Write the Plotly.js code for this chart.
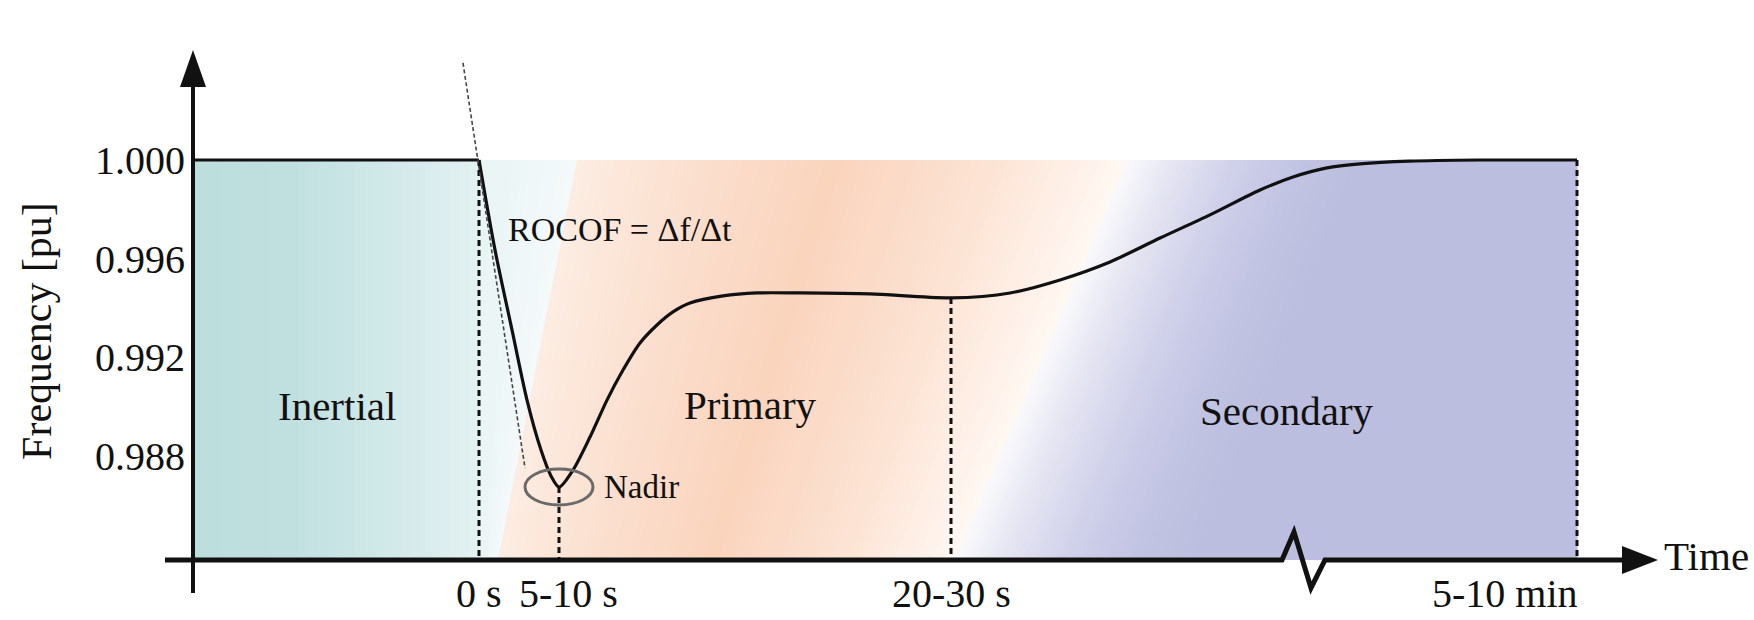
<!DOCTYPE html>
<html>
<head>
<meta charset="utf-8">
<script src="https://cdn.plot.ly/plotly-3.0.1.min.js"></script>
<style>
  html, body { margin: 0; padding: 0; background: #ffffff; }
  #chart { width: 1754px; height: 620px; }
</style>
</head>
<body>
<div id="chart"></div>
<script>
// Frequency response after a sudden loss of generation.
// Time is on a schematic (non-linear) axis; frequency in per unit.

// ---- data -------------------------------------------------------------
const timePos = [-28.6, 0, 1.6, 3.3, 4.8, 6.2, 7.2, 8.0, 9.4, 11.1, 12.8, 14.4, 16.1,
                 17.8, 19.4, 21.1, 24.4, 27.8, 32.1, 39.1, 47.2, 53.1, 58.1, 63.1, 68.1,
                 73.1, 78.1, 81.4, 84.8, 88.1, 93.0, 100.0, 109.8];
const freqPu  = [1.0, 1.0, 0.99635, 0.99310, 0.99025, 0.98822, 0.98717, 0.98672, 0.98741,
                 0.98875, 0.99025, 0.99147, 0.99257, 0.99330, 0.99383, 0.99419, 0.99448,
                 0.99460, 0.99460, 0.99456, 0.99440, 0.99460, 0.99513, 0.99586, 0.99683,
                 0.99777, 0.99878, 0.99931, 0.99968, 0.99984, 0.99995, 1.0, 1.0];

const yTickVals = [0.988, 0.992, 0.996, 1.000];
const yTickText = ['0.988', '0.992', '0.996', '1.000'];

const timeMarks    = [0, 8.0, 47.2, 109.8];
const timeMarkText = ['0 s', '5-10 s', '20-30 s', '5-10 min'];

const phaseNames = ['Inertial', 'Primary', 'Secondary'];

// ---- geometry & style -------------------------------------------------
const W = 1754, H = 620;
const X_RANGE = [-47.9, 127.5];
const Y_RANGE = [0.98132, 1.006497];
const uX = (X_RANGE[1] - X_RANGE[0]) / W;   // data units per pixel
const uY = (Y_RANGE[1] - Y_RANGE[0]) / H;

const AXIS_Y = 0.98376;      // level of the time axis
const Y_AXIS_X = -28.6;      // position of the frequency axis
const F_NOM = 1.0;
const INK = '#111111';
const FONT = 'Liberation Serif';

const phaseLabelPos = [[-14.2, 0.99001], [27.1, 0.99005], [80.8, 0.98981]];

// coloured phase bands (slanted edges given as [x at top, x at bottom])
const bands = [
  { left: [Y_AXIS_X, Y_AXIS_X], right: [0, 0], n: 30,
    stops: [[0, '#bcdedd'], [0.35, '#c0e0df'], [0.7, '#d3e9ea'], [1, '#e3f1f2']] },
  { left: [0, 0], right: [9.8, 1.9], n: 12,
    stops: [[0, '#e9f4f5'], [1, '#f4f9fa']] },
  { left: [9.8, 1.9], right: [64.9, 47.6], n: 60,
    stops: [[0, '#fcece2'], [0.2, '#fbe0d0'], [0.47, '#fad4bd'], [0.75, '#fce3d4'], [1, '#fff8f3']] },
  { left: [64.9, 47.6], right: [87.9, 71.6], n: 60,
    stops: [[0, '#f9f9fc'], [0.18, '#e7e7f3'], [0.36, '#d8d9ed'], [0.55, '#cbcce7'],
            [0.75, '#c2c4e3'], [0.9, '#bec0e0'], [1, '#bcbedf']] },
  { left: [87.9, 71.6], right: [109.8, 109.8], n: 1,
    stops: [[0, '#bcbedf'], [1, '#bcbedf']] }
];

function hexRgb(h) {
  return [1, 3, 5].map(i => parseInt(h.slice(i, i + 2), 16));
}
function colorAt(stops, t) {
  for (let i = 1; i < stops.length; i++) {
    if (t <= stops[i][0] || i === stops.length - 1) {
      const [t0, c0] = stops[i - 1], [t1, c1] = stops[i];
      const f = t1 === t0 ? 0 : Math.min(1, Math.max(0, (t - t0) / (t1 - t0)));
      const a = hexRgb(c0), b = hexRgb(c1);
      const c = a.map((v, k) => Math.round(v + (b[k] - v) * f));
      return 'rgb(' + c.join(',') + ')';
    }
  }
}
function pathOf(pts, close) {
  return 'M' + pts.map(p => p[0] + ',' + p[1]).join('L') + (close ? 'Z' : '');
}

const shapes = [];

// background phase bands, built from thin strips so the colour can follow the slanted edges
bands.forEach(b => {
  for (let i = 0; i < b.n; i++) {
    const t0 = i / b.n, t1 = (i + 1) / b.n;
    const over = i < b.n - 1 ? 0.15 : 0.05;
    const xt0 = b.left[0] + t0 * (b.right[0] - b.left[0]);
    const xt1 = b.left[0] + t1 * (b.right[0] - b.left[0]) + over;
    const xb0 = b.left[1] + t0 * (b.right[1] - b.left[1]);
    const xb1 = b.left[1] + t1 * (b.right[1] - b.left[1]) + over;
    shapes.push({
      type: 'path', xref: 'x', yref: 'y', layer: 'below',
      path: pathOf([[xt0, F_NOM], [xt1, F_NOM], [xb1, AXIS_Y], [xb0, AXIS_Y]], true),
      fillcolor: colorAt(b.stops, (t0 + t1) / 2),
      line: { width: 0 }
    });
  }
});

// dashed drop lines from the curve to the time axis at the marked instants
timeMarks.forEach(t => {
  const f = freqPu[timePos.indexOf(t)];
  shapes.push({
    type: 'line', xref: 'x', yref: 'y', layer: 'below',
    x0: t, x1: t, y0: f, y1: AXIS_Y,
    line: { color: INK, width: 3, dash: '6px,4px' }
  });
});

// ROCOF tangent at the onset of the disturbance
shapes.push({
  type: 'line', xref: 'x', yref: 'y', layer: 'above',
  x0: -1.6, y0: 1.003939, x1: 4.6, y1: 0.987491,
  line: { color: '#444444', width: 1.6, dash: '4px,2.5px' }
});

// nadir marker
const iNadir = freqPu.indexOf(Math.min(...freqPu));
shapes.push({
  type: 'circle', xref: 'x', yref: 'y', layer: 'above',
  x0: timePos[iNadir] - 34 * uX, x1: timePos[iNadir] + 34 * uX,
  y0: freqPu[iNadir] - 18 * uY, y1: freqPu[iNadir] + 18 * uY,
  line: { color: '#6a6a6a', width: 3 }
});

// frequency axis with arrow head
shapes.push({
  type: 'line', xref: 'x', yref: 'y', layer: 'above',
  x0: Y_AXIS_X, x1: Y_AXIS_X, y0: AXIS_Y - 33 * uY, y1: F_NOM + 75 * uY,
  line: { color: INK, width: 4 }
});
shapes.push({
  type: 'path', xref: 'x', yref: 'y', layer: 'above',
  path: pathOf([[Y_AXIS_X, F_NOM + 110 * uY], [Y_AXIS_X - 13 * uX, F_NOM + 73 * uY],
                [Y_AXIS_X + 13 * uX, F_NOM + 73 * uY]], true),
  fillcolor: INK, line: { width: 0 }
});

// time axis with a break symbol and arrow head
const brk = 80.3;
shapes.push({
  type: 'path', xref: 'x', yref: 'y', layer: 'above',
  path: pathOf([[Y_AXIS_X - 28 * uX, AXIS_Y], [brk, AXIS_Y], [brk + 12 * uX, AXIS_Y + 28 * uY],
                [brk + 29 * uX, AXIS_Y - 28 * uY], [brk + 43 * uX, AXIS_Y], [114.6, AXIS_Y]], false),
  line: { color: INK, width: 5 }
});
shapes.push({
  type: 'path', xref: 'x', yref: 'y', layer: 'above',
  path: pathOf([[117.9, AXIS_Y], [114.3, AXIS_Y + 14 * uY], [114.3, AXIS_Y - 14 * uY]], true),
  fillcolor: INK, line: { width: 0 }
});

// ---- traces ------------------------------------------------------------
const iOnset = timePos.indexOf(0);
const traces = [
  { // pre-disturbance steady state
    x: timePos.slice(0, iOnset + 1), y: freqPu.slice(0, iOnset + 1),
    type: 'scatter', mode: 'lines', hoverinfo: 'skip',
    line: { color: INK, width: 3.2 }
  },
  { // dynamic response
    x: timePos.slice(iOnset), y: freqPu.slice(iOnset),
    type: 'scatter', mode: 'lines', hoverinfo: 'skip',
    line: { color: INK, width: 3.2, shape: 'spline', smoothing: 0.8 }
  }
];

// ---- annotations -------------------------------------------------------
const annotations = [];
phaseNames.forEach((name, i) => {
  annotations.push({
    x: phaseLabelPos[i][0], y: phaseLabelPos[i][1], xref: 'x', yref: 'y',
    text: name, showarrow: false, xanchor: 'center', yanchor: 'middle',
    font: { family: FONT, size: 41, color: INK }
  });
});
const markAnchor = ['center', 'center', 'center', 'right'];
const markShift  = [0, 9, 0, 3];
timeMarks.forEach((t, i) => {
  annotations.push({
    x: t, y: 0.98238, xref: 'x', yref: 'y', text: timeMarkText[i], showarrow: false,
    xanchor: markAnchor[i], yanchor: 'middle', xshift: markShift[i],
    font: { family: FONT, size: 40, color: INK }
  });
});
annotations.push({
  x: 118.3, y: 0.98392, xref: 'x', yref: 'y', text: 'Time', showarrow: false,
  xanchor: 'left', yanchor: 'middle', font: { family: FONT, size: 41, color: INK }
});
annotations.push({
  x: 2.7, y: 0.99716, xref: 'x', yref: 'y', text: 'ROCOF = \u0394f/\u0394t', showarrow: false,
  xanchor: 'left', yanchor: 'middle', font: { family: FONT, size: 34, color: INK }
});
annotations.push({
  x: timePos[iNadir] + 43 * uX, y: freqPu[iNadir], xref: 'x', yref: 'y', text: 'Nadir',
  showarrow: false, xanchor: 'left', yanchor: 'middle',
  font: { family: FONT, size: 33, color: INK }
});
// frequency axis title, centred on the labelled part of the axis
annotations.push({
  x: -44.2, y: 0.99306, xref: 'x', yref: 'y', text: 'Frequency [pu]', showarrow: false,
  textangle: -90, xanchor: 'center', yanchor: 'middle',
  font: { family: FONT, size: 42, color: INK }
});

// ---- layout ------------------------------------------------------------
const layout = {
  width: W, height: H,
  margin: { l: 0, r: 0, t: 0, b: 0, pad: 0 },
  paper_bgcolor: '#ffffff', plot_bgcolor: '#ffffff',
  showlegend: false,
  xaxis: {
    range: X_RANGE, showgrid: false, zeroline: false, showline: false,
    showticklabels: false, ticks: '', fixedrange: true, automargin: false
  },
  yaxis: {
    range: Y_RANGE, anchor: 'free',
    position: (Y_AXIS_X - X_RANGE[0]) / (X_RANGE[1] - X_RANGE[0]),
    tickmode: 'array', tickvals: yTickVals, ticktext: yTickText,
    tickfont: { family: FONT, size: 40, color: INK },
    ticks: '', ticklabelstandoff: 8,
    showgrid: false, zeroline: false, showline: false, fixedrange: true, automargin: false
  },
  shapes: shapes,
  annotations: annotations
};

Plotly.newPlot('chart', traces, layout, { staticPlot: true, displayModeBar: false });
</script>
</body>
</html>
